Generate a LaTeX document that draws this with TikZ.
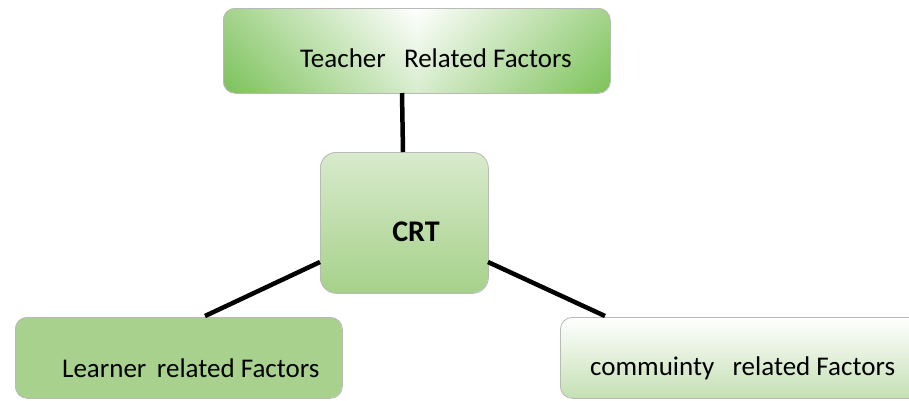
\documentclass[tikz,border=0pt]{standalone}
\usepackage{fontspec}
\setmainfont{Carlito}
\begin{document}
\begin{tikzpicture}[x=1pt,y=-1pt,
  boxedge/.style={draw=gray!55, line width=0.8pt, rounded corners=12pt},
  link/.style={line width=4.5pt, black},
  lbl/.style={font=\fontsize{27}{30}\selectfont, anchor=west, inner sep=0pt},
  every node/.style={inner sep=0pt}]
\definecolor{gdark}{HTML}{7CC25A}
\definecolor{gmid}{HTML}{A6D18A}
\definecolor{gflat}{HTML}{A9D18E}
\definecolor{glight}{HTML}{C5E0B4}
\useasboundingbox (0,0) rectangle (909,400);
\begin{scope}
\clip (0,0) rectangle (909,400);
% top box
\shade[rounded corners=12pt, left color=gdark, right color=gdark, middle color=white]
  (223,8) rectangle (610,93);
\shade[rounded corners=12pt, top color=white, bottom color=gdark, fill opacity=0.3]
  (223,8) rectangle (610,93);
\node[boxedge, minimum width=387pt, minimum height=85pt, anchor=north west] (teacher) at (223,8) {};
\node[lbl] (tlabel) at (300,58) {Teacher \ \ Related Factors};
% CRT box
\shade[rounded corners=16pt, top color=gflat!45!white, bottom color=gmid]
  (320,152) rectangle (488,293);
\node[boxedge, rounded corners=16pt, minimum width=168pt, minimum height=141pt, anchor=north west] (crt) at (320,152) {};
\node[font=\fontsize{30}{34}\selectfont\bfseries] (crtlabel) at (416,232) {CRT};
% learner box
\fill[gflat, rounded corners=12pt] (15,317) rectangle (342,398);
\node[boxedge, minimum width=327pt, minimum height=81pt, anchor=north west] (learner) at (15,317) {};
\node[lbl] (llabel) at (62,368) {Learner \,related Factors};
% community box
\shade[rounded corners=12pt, top color=white, bottom color=glight]
  (560,317) rectangle (925,398);
\node[boxedge, minimum width=365pt, minimum height=81pt, anchor=north west] (community) at (560,317) {};
\node[lbl] (clabel) at (590,368) {commuinty \ \ related Factors};
% connectors
\coordinate (tb) at (402,93);
\coordinate (ct) at (403,152);
\coordinate (cl) at (320,262);
\coordinate (cr) at (488,262);
\coordinate (lt) at (205,316);
\coordinate (rt) at (605,316);
\draw[link] (tb) -- (ct);
\draw[link] (cl) -- (lt);
\draw[link] (cr) -- (rt);
\end{scope}
\end{tikzpicture}
\end{document}
